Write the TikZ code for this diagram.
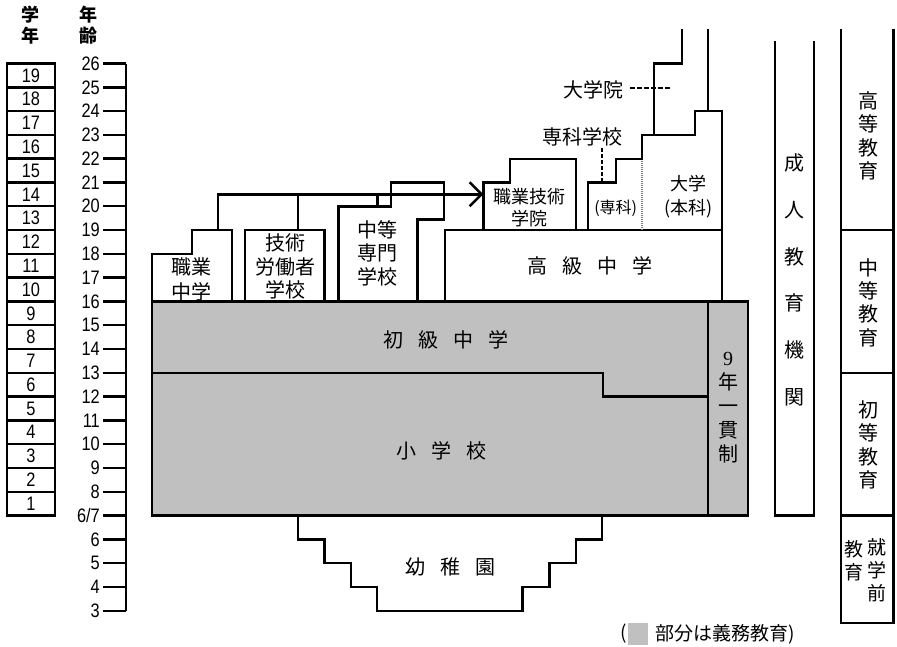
\documentclass[tikz,border=0pt]{standalone}
\usepackage{fontspec}
\usetikzlibrary{arrows.meta}
\newfontfamily\jp{Noto Sans CJK JP}
\newfontfamily\numf[FakeStretch=0.84]{Liberation Sans}
\newfontfamily\sernum{Liberation Serif}
\definecolor{cgray}{HTML}{C0C0C0}
\tikzset{
  edge/.style={line width=2.4pt},
  lbl/.style={font=\jp\fontsize{20}{23.3}\selectfont, align=center, inner sep=0pt},
  slbl/.style={font=\jp\fontsize{18}{21.7}\selectfont, align=center, inner sep=0pt},
  num/.style={font=\numf\fontsize{19.5}{19.5}\selectfont, inner sep=0pt},
  hdr/.style={font=\jp\bfseries\fontsize{18}{21}\selectfont, align=center, inner sep=0pt},
  dashline/.style={line width=1.8pt, dash pattern=on 5pt off 2pt},
  dotsep/.style={line width=1.8pt, draw=gray, dash pattern=on 1pt off 1pt},
  compulsory/.style={fill=cgray, draw=black, line width=2.4pt}
}
\begin{document}
\begin{tikzpicture}[x=1pt,y=-1pt]
\useasboundingbox (0,0) rectangle (897,646);
\fill[white] (0,0) rectangle (897,646);

% headers
\node[hdr] (hgrade) at (30,25) {学\\年};
\node[hdr] (hage) at (88,25) {年\\齢};

% grade boxes
\foreach \n in {1,...,19}{
  \pgfmathsetmacro{\ya}{610.7-23.79*(\n+3)}
  \pgfmathsetmacro{\yb}{610.7-23.79*(\n+4)}
  \pgfmathsetmacro{\yc}{610.7-23.79*(\n+3.5)}
  \draw[edge] (6.7,\ya) rectangle (55,\yb);
  \node[num] (g\n) at (31,\yc) {\n};
}

% age axis
\draw[edge] (126,63.5) -- (126,610.7);
\foreach \k/\t in {0/3,1/4,2/5,3/6,4/{6/7},5/8,6/9,7/10,8/11,9/12,10/13,11/14,12/15,13/16,14/17,15/18,16/19,17/20,18/21,19/22,20/23,21/24,22/25,23/26}{
  \pgfmathsetmacro{\y}{610.7-23.79*\k}
  \draw[edge] (103,\y) -- (126,\y);
  \node[num, anchor=east] (age\k) at (100,\y) {\t};
}

% compulsory block
\draw[compulsory] (152,301.4) rectangle (748,515.5);
\draw[edge] (152,372.8) -- (602.7,372.8) -- (602.7,396.6) -- (708,396.6);
\draw[edge] (708,301.4) -- (708,515.5);
\node[lbl] (chuu) at (446,340) {初\hspace{15pt}級\hspace{15pt}中\hspace{15pt}学};
\node[lbl] (shou) at (441,451) {小\hspace{15pt}学\hspace{15pt}校};
\node[lbl, font=\jp\fontsize{20}{24}\selectfont] (ikkan) at (728,408) {{\sernum 9}\\年\\一\\貫\\制};

% senior high
\draw[edge] (445,301.4) -- (445,230.1) -- (721.7,230.1) -- (721.7,301.4);
\node[lbl] (koukyuu) at (590,266) {高\hspace{15pt}級\hspace{15pt}中\hspace{15pt}学};

% vocational middle
\draw[edge] (151.7,301.4) -- (151.7,253.8) -- (191.7,253.8) -- (191.7,230.1) -- (231.7,230.1) -- (231.7,301.4);
\node[lbl, font=\jp\fontsize{20}{25}\selectfont] (shokugyou) at (191.7,279) {職業\\中学};

% technical workers school
\draw[edge] (245,301.4) -- (245,230.1) -- (324.3,230.1) -- (324.3,301.4);
\node[lbl] (gijutsu) at (285,266.7) {技術\\労働者\\学校};

% secondary specialised school
\draw[edge] (338.3,301.4) -- (338.3,206.3) -- (390.7,206.3) -- (390.7,182.5) -- (444,182.5) -- (444,219.3) -- (417.3,219.3) -- (417.3,301.4);
\node[lbl] (senmon) at (377.3,253.3) {中等\\専門\\学校};

% vocational technical college
\draw[edge] (483.3,230.1) -- (483.3,182.5) -- (510,182.5) -- (510,158.7) -- (576,158.7) -- (576,230.1);
\node[slbl] (gakuin) at (529.3,207.5) {職業技術\\学院};

% connectors
\coordinate (c1) at (217.7,230.1);
\coordinate (c2) at (297.7,230.1);
\coordinate (c3) at (377.3,206.3);
\coordinate (ctip) at (483.3,194.3);
\draw[edge, -{Straight Barb[length=12pt,width=24pt]}] (c1) -- (217.7,194.3) -- (ctip);
\draw[edge] (c2) -- (297.7,194.3);
\draw[edge] (c3) -- (377.3,194.3);

% university
\draw[edge] (588,230.1) -- (588,182.5) -- (615.7,182.5) -- (615.7,158.7) -- (641.7,158.7) -- (641.7,134.9) -- (695,134.9) -- (695,111.1) -- (721.7,111.1) -- (721.7,230.1);
\draw[edge] (654,134.9) -- (654,63.5) -- (681.7,63.5) -- (681.7,29);
\draw[edge] (707.7,111.1) -- (707.7,29);
\draw[dotsep] (642.3,160.7) -- (642.3,229.3);
\node[font=\jp\fontsize{16}{18}\selectfont, inner sep=0pt] (senka) at (615.7,208.3) {(専科)};
\node[slbl, font=\jp\fontsize{18}{23.3}\selectfont] (daigaku) at (688.3,196.7) {大学\\(本科)};
\node[lbl] (daigakuin) at (593,90) {大学院};
\draw[dashline] (630,88.3) -- (670,88.3);
\node[lbl] (senkagakkou) at (582.5,136.7) {専科学校};
\draw[dashline, dash pattern=on 4pt off 2pt] (601.7,148) -- (601.7,181.7);

% kindergarten
\draw[edge] (297.7,515.5) -- (297.7,539.3) -- (324.3,539.3) -- (324.3,563.1) -- (350.7,563.1) -- (350.7,586.9) -- (376.7,586.9) -- (376.7,610.7) -- (522.3,610.7) -- (522.3,586.9) -- (549.3,586.9) -- (549.3,563.1) -- (575.7,563.1) -- (575.7,539.3) -- (602,539.3) -- (602,515.5);
\node[lbl] (youchien) at (450,566.7) {幼\hspace{15pt}稚\hspace{15pt}園};

% adult education
\draw[edge] (775,41) -- (775,515.5) -- (814,515.5) -- (814,41);
\node[lbl, font=\jp\fontsize{20}{46.8}\selectfont] (seijin) at (794,280) {成\\人\\教\\育\\機\\関};

% levels column
\draw[edge] (841,29) -- (841,622.7) -- (893.3,622.7) -- (893.3,29);
\draw[edge] (841,230.1) -- (893.3,230.1);
\draw[edge] (841,372.8) -- (893.3,372.8);
\draw[edge] (841,515.5) -- (893.3,515.5);
\node[lbl] (koutou) at (868,136) {高\\等\\教\\育};
\node[lbl] (chuutou) at (868,302.5) {中\\等\\教\\育};
\node[lbl] (shotou) at (868,445) {初\\等\\教\\育};
\node[lbl, font=\jp\fontsize{19}{23}\selectfont] (shuugaku) at (877,570) {就\\学\\前};
\node[lbl, font=\jp\fontsize{19}{23}\selectfont] (kyouiku) at (854,561) {教\\育};

% legend
\node[lbl, font=\jp\fontsize{19}{19}\selectfont, anchor=east] (lparen) at (627,634) {(};
\fill[cgray] (628.3,622.5) rectangle (648,644.5);
\node[lbl, font=\jp\fontsize{19}{19}\selectfont, anchor=west] (legend) at (655,634) {部分は義務教育)};
\end{tikzpicture}
\end{document}
